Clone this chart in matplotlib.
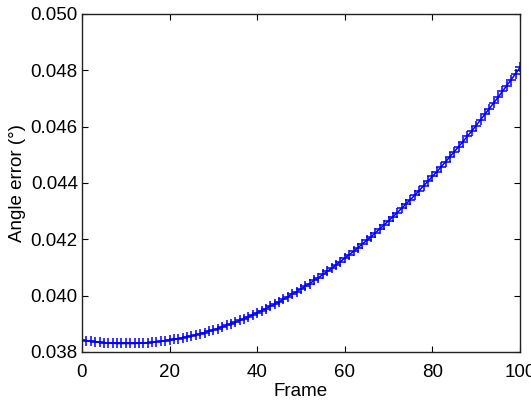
import matplotlib
matplotlib.use("Agg")
import matplotlib.pyplot as plt
from matplotlib.ticker import FormatStrFormatter

plt.rcParams['font.family'] = ['Liberation Sans', 'DejaVu Sans']

# angle error per frame
frames = list(range(0, 101))
angle_error = [
    0.03842, 0.03840, 0.03838, 0.03836, 0.03834, 0.03833, 0.03832, 0.03831, 0.03830, 0.03830,
    0.03830, 0.03830, 0.03830, 0.03831, 0.03832, 0.03833, 0.03834, 0.03836, 0.03838, 0.03840,
    0.03842, 0.03845, 0.03847, 0.03850, 0.03854, 0.03857, 0.03861, 0.03865, 0.03869, 0.03874,
    0.03878, 0.03883, 0.03889, 0.03894, 0.03900, 0.03906, 0.03912, 0.03918, 0.03925, 0.03932,
    0.03939, 0.03946, 0.03954, 0.03962, 0.03970, 0.03978, 0.03987, 0.03996, 0.04005, 0.04014,
    0.04024, 0.04033, 0.04043, 0.04054, 0.04064, 0.04075, 0.04086, 0.04097, 0.04109, 0.04121,
    0.04133, 0.04145, 0.04157, 0.04170, 0.04183, 0.04196, 0.04209, 0.04223, 0.04237, 0.04251,
    0.04266, 0.04280, 0.04295, 0.04310, 0.04326, 0.04341, 0.04357, 0.04373, 0.04390, 0.04406,
    0.04423, 0.04440, 0.04457, 0.04475, 0.04493, 0.04511, 0.04529, 0.04547, 0.04566, 0.04585,
    0.04604, 0.04624, 0.04644, 0.04664, 0.04684, 0.04704, 0.04725, 0.04746, 0.04767, 0.04788,
    0.04810,
]
x_ticks = [0, 20, 40, 60, 80, 100]
y_ticks = [0.038, 0.040, 0.042, 0.044, 0.046, 0.048, 0.050]

fig = plt.figure(figsize=(5.31, 4.05), dpi=100)
ax = fig.add_axes([0.1544, 0.131, 0.8248, 0.8345])

ax.plot(frames, angle_error, color='#0000ff', linewidth=1.1,
        marker='+', markersize=7, markeredgewidth=1.1)

ax.set_xlim(0, 100)
ax.set_ylim(0.038, 0.050)
ax.set_xticks(x_ticks)
ax.set_yticks(y_ticks)
ax.yaxis.set_major_formatter(FormatStrFormatter('%.3f'))
ax.tick_params(direction='in', length=4, width=0.8, labelsize=13.5,
               top=True, right=True, colors='black')
ax.tick_params(axis='x', pad=9)
ax.tick_params(axis='y', pad=3)
for s in ax.spines.values():
    s.set_linewidth(1.0)
    s.set_color('#222222')

ax.set_xlabel('Frame', fontsize=13.5, labelpad=1)
ax.set_ylabel('Angle error (°)', fontsize=13.5, labelpad=3)

fig.savefig('out.png', dpi=100)
